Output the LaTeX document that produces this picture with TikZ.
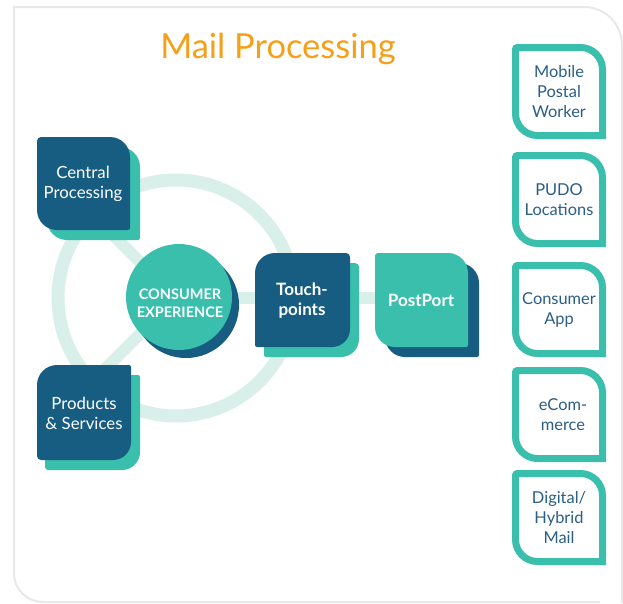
\documentclass[tikz,border=0pt]{standalone}
\usepackage{fontspec}
\setmainfont{Lato}
\definecolor{teal}{HTML}{3BBFAD}
\definecolor{navy}{HTML}{175D82}
\definecolor{mint}{HTML}{D9EFE9}
\definecolor{framegray}{HTML}{E8E8E8}
\definecolor{orangetitle}{HTML}{F6A01A}
\definecolor{bluetext}{HTML}{2A5E86}
\newcommand\leaf[9]{%
  \path[#1] ({#2+#6},#3) -- ({#4-#7},#3)
    .. controls ({#4-0.448*#7},#3) and (#4,{#3+0.448*#7}) .. (#4,{#3+#7})
    -- (#4,{#5-#8})
    .. controls (#4,{#5-0.448*#8}) and ({#4-0.448*#8},#5) .. ({#4-#8},#5)
    -- ({#2+#9},#5)
    .. controls ({#2+0.448*#9},#5) and (#2,{#5-0.448*#9}) .. (#2,{#5-#9})
    -- (#2,{#3+#6})
    .. controls (#2,{#3+0.448*#6}) and ({#2+0.448*#6},#3) .. ({#2+#6},#3) -- cycle;}
\tikzset{
  wt/.style={text=white, align=center, font=\fontsize{16.8}{20}\selectfont},
  wtb/.style={text=white, align=center, font=\bfseries\fontsize{17}{20}\selectfont},
  bt/.style={text=bluetext, align=center, font=\fontsize{16.4}{20}\selectfont},
  outbox/.style={draw=teal, fill=white, line width=7pt},
  band/.style={draw=mint, line width=12pt}
}
\begin{document}
\begin{tikzpicture}[x=1pt,y=-1pt]
\useasboundingbox (0,0) rectangle (623,603);
% frame
\draw[framegray, line width=2pt] (622,603) -- (622,45) .. controls (622,24) and (605,7) .. (584,7) -- (14,7) -- (14,573) .. controls (14,590) and (27,602) .. (44,602) -- (600,602);
% title
\node[text=orangetitle, font=\fontsize{34.5}{38}\selectfont] (title) at (278,49) {Mail Processing};
% ring and spokes
\coordinate (c) at (176,298);
\draw[mint, line width=13pt] (c) circle (118pt);
\coordinate (s1) at (100,222);
\coordinate (s2) at (100,374);
\coordinate (s3) at (400,298);
\draw[band] (c) -- (s1);
\draw[band] (c) -- (s2);
\draw[band] (c) -- (s3);
% central processing
\leaf{fill=teal}{47}{147}{140}{240}{4}{20}{2}{20}
\leaf{fill=navy}{37}{137}{130}{230}{4}{20}{2}{20}
\node[wt] (cp) at (83,184) {Central\\Processing};
% products
\leaf{fill=teal}{45}{375}{140}{470}{20}{2}{18}{3}
\leaf{fill=navy}{37}{365}{131}{460}{20}{2}{18}{4}
\node[wt] (ps) at (84,413) {Products\\\& Services};
% consumer experience
\fill[navy] (186,305) circle (53pt);
\fill[teal] (179,297) circle (53pt);
\node[text=white, align=center, font=\bfseries\fontsize{14.5}{17.5}\selectfont] (ce) at (180,303) {CONSUMER\\EXPERIENCE};
% touchpoints
\leaf{fill=teal}{264}{263}{359}{357}{20}{4}{18}{2}
\leaf{fill=navy}{255}{253}{350}{347}{20}{4}{18}{2}
\node[wtb] (tp) at (302,301) {Touch-\\points};
% postport
\leaf{fill=navy}{385}{263}{479}{357}{3}{20}{2}{20}
\leaf{fill=teal}{375}{253}{468}{347}{3}{20}{2}{20}
\node[wtb] (pp) at (421,300) {PostPort};
% right column
\leaf{outbox}{515.5}{47.5}{602.5}{135.5}{2}{22}{0}{22}
\node[bt] (b1) at (559,92) {Mobile\\Postal\\Worker};
\leaf{outbox}{515.5}{155.5}{602.5}{243.5}{2}{22}{0}{22}
\node[bt] (b2) at (559,200) {PUDO\\Locations};
\leaf{outbox}{515.5}{265.5}{602.5}{353.5}{2}{22}{0}{22}
\node[bt] (b3) at (559,310) {Consumer\\App};
\leaf{outbox}{515.5}{370.5}{602.5}{458.5}{2}{22}{0}{22}
\node[bt] (b4) at (563,415) {eCom-\\merce};
\leaf{outbox}{515.5}{473.5}{602.5}{561.5}{2}{22}{0}{22}
\node[bt] (b5) at (559,518) {Digital/\\Hybrid\\Mail};
\end{tikzpicture}
\end{document}
